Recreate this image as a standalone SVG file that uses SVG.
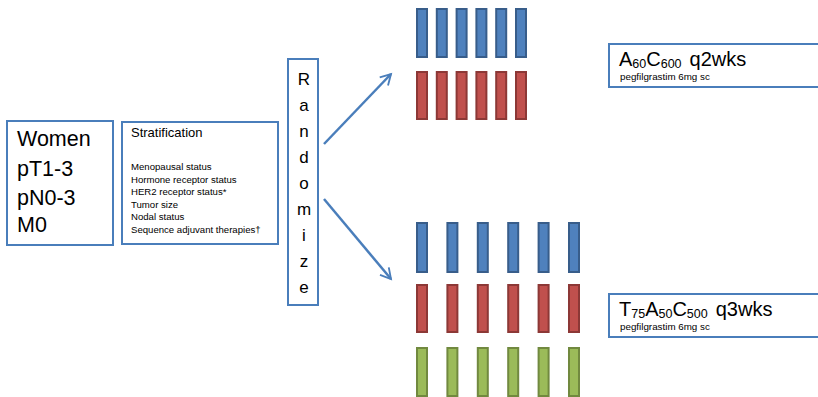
<svg xmlns="http://www.w3.org/2000/svg" width="818" height="397" viewBox="0 0 818 397">
<defs>
<style>
.box{fill:#fff;stroke:#4a7ebb;stroke-width:2}
.t{font-family:"Liberation Sans",Arial,sans-serif;fill:#000}
.b{fill:#4f81bd;stroke:#385d8a;stroke-width:2}
.r{fill:#c0504d;stroke:#8c3836;stroke-width:2}
.g{fill:#9bbb59;stroke:#71893f;stroke-width:2}
.arr{fill:none;stroke:#4a7ebb;stroke-width:2.5}
</style>
<marker id="ah" viewBox="0 0 12 12" refX="10" refY="6" markerWidth="5.5" markerHeight="5.5" orient="auto" markerUnits="strokeWidth">
<path d="M1,1 L10,6 L1,11" fill="none" stroke="#4a7ebb" stroke-width="1.6"/>
</marker>
</defs>
<rect width="818" height="397" fill="#fff"/>
<g id="women">
<rect class="box" x="7" y="121" width="106" height="124"/>
<text class="t" font-size="21.5" x="17" y="146">Women</text>
<text class="t" font-size="21.5" x="17" y="176">pT1-3</text>
<text class="t" font-size="21.5" x="17" y="205">pN0-3</text>
<text class="t" font-size="21.5" x="17" y="232">M0</text>
</g>
<g id="stratification">
<rect class="box" x="122" y="122" width="156" height="122"/>
<text class="t" font-size="13" x="131" y="137">Stratification</text>
<text class="t" font-size="9.6" x="131" y="170">Menopausal status</text>
<text class="t" font-size="9.6" x="131" y="182.6">Hormone receptor status</text>
<text class="t" font-size="9.6" x="131" y="195.2">HER2 receptor status*</text>
<text class="t" font-size="9.6" x="131" y="207.8">Tumor size</text>
<text class="t" font-size="9.6" x="131" y="220.4">Nodal status</text>
<text class="t" font-size="9.6" x="131" y="233">Sequence adjuvant therapies†</text>
</g>
<g id="randomize">
<rect class="box" x="288" y="59" width="30" height="246"/>
<g class="t" font-size="17" text-anchor="middle">
<text x="304" y="84.5">R</text>
<text x="304" y="110.5">a</text>
<text x="304" y="136.5">n</text>
<text x="304" y="162.5">d</text>
<text x="304" y="188.5">o</text>
<text x="304" y="214.5">m</text>
<text x="304" y="240.5">i</text>
<text x="304" y="266.5">z</text>
<text x="304" y="292.5">e</text>
</g>
</g>
<g id="connectors">
<line class="arr" x1="324" y1="144" x2="391" y2="74" marker-end="url(#ah)"/>
<line class="arr" x1="324" y1="199" x2="391" y2="279" marker-end="url(#ah)"/>
</g>
<g id="arm1-bars">
<rect class="b" x="417" y="9" width="10" height="48"/>
<rect class="b" x="436.8" y="9" width="10" height="48"/>
<rect class="b" x="456.6" y="9" width="10" height="48"/>
<rect class="b" x="476.4" y="9" width="10" height="48"/>
<rect class="b" x="496.2" y="9" width="10" height="48"/>
<rect class="b" x="516" y="9" width="10" height="48"/>
<rect class="r" x="417" y="72" width="10" height="47"/>
<rect class="r" x="436.8" y="72" width="10" height="47"/>
<rect class="r" x="456.6" y="72" width="10" height="47"/>
<rect class="r" x="476.4" y="72" width="10" height="47"/>
<rect class="r" x="496.2" y="72" width="10" height="47"/>
<rect class="r" x="516" y="72" width="10" height="47"/>
</g>
<g id="arm2-bars">
<rect class="b" x="417" y="223" width="10" height="49"/>
<rect class="b" x="447.4" y="223" width="10" height="49"/>
<rect class="b" x="477.8" y="223" width="10" height="49"/>
<rect class="b" x="508.2" y="223" width="10" height="49"/>
<rect class="b" x="538.6" y="223" width="10" height="49"/>
<rect class="b" x="569" y="223" width="10" height="49"/>
<rect class="r" x="417" y="285" width="10" height="47"/>
<rect class="r" x="447.4" y="285" width="10" height="47"/>
<rect class="r" x="477.8" y="285" width="10" height="47"/>
<rect class="r" x="508.2" y="285" width="10" height="47"/>
<rect class="r" x="538.6" y="285" width="10" height="47"/>
<rect class="r" x="569" y="285" width="10" height="47"/>
<rect class="g" x="417" y="348" width="10" height="48"/>
<rect class="g" x="447.4" y="348" width="10" height="48"/>
<rect class="g" x="477.8" y="348" width="10" height="48"/>
<rect class="g" x="508.2" y="348" width="10" height="48"/>
<rect class="g" x="538.6" y="348" width="10" height="48"/>
<rect class="g" x="569" y="348" width="10" height="48"/>
</g>
<g id="arm1-label">
<rect class="box" x="609" y="44" width="215" height="43"/>
<text class="t" font-size="20" x="619" y="66">A<tspan font-size="12.5" dy="2">60</tspan><tspan dy="-2">C</tspan><tspan font-size="12.5" dy="2">600</tspan><tspan dx="8" dy="-2">q2wks</tspan></text>
<text class="t" font-size="9.8" x="620" y="80">pegfilgrastim 6mg sc</text>
</g>
<g id="arm2-label">
<rect class="box" x="609" y="294" width="215" height="43"/>
<text class="t" font-size="20" x="619" y="316">T<tspan font-size="12.5" dy="2">75</tspan><tspan dy="-2">A</tspan><tspan font-size="12.5" dy="2">50</tspan><tspan dy="-2">C</tspan><tspan font-size="12.5" dy="2">500</tspan><tspan dx="8" dy="-2">q3wks</tspan></text>
<text class="t" font-size="9.8" x="620" y="330">pegfilgrastim 6mg sc</text>
</g>
</svg>
